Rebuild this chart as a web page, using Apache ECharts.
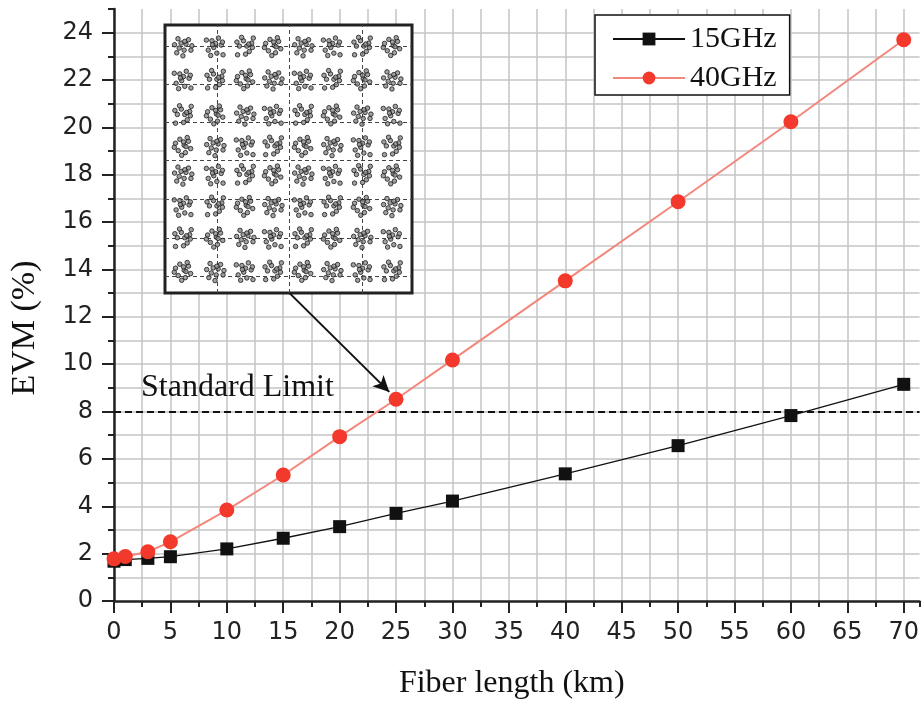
<!DOCTYPE html>
<html>
<head>
<meta charset="utf-8">
<script src="https://cdn.jsdelivr.net/npm/echarts@6.0.0/dist/echarts.min.js"></script>
<style>html,body{margin:0;padding:0;background:#fff}#c{width:922px;height:708px}</style>
</head>
<body>
<div id="c"></div>
<script>
// ---- data ----
var fiberLength = [0, 1, 3, 5, 10, 15, 20, 25, 30, 40, 50, 60, 70];
var evm15GHz = [1.68, 1.75, 1.8, 1.87, 2.2, 2.65, 3.14, 3.7, 4.22, 5.37, 6.56, 7.83, 9.15];
var evm40GHz = [1.78, 1.88, 2.08, 2.5, 3.84, 5.32, 6.94, 8.52, 10.18, 13.52, 16.86, 20.24, 23.7];
var standardLimit = 8;
var xTickLabels = [0, 5, 10, 15, 20, 25, 30, 35, 40, 45, 50, 55, 60, 65, 70];
var yTickLabels = [0, 2, 4, 6, 8, 10, 12, 14, 16, 18, 20, 22, 24];
var seriesNames = ['15GHz', '40GHz'];
// inset constellation (64 clusters)
var constColX = [0.58, 1.62, 2.59, 3.5, 4.47, 5.41, 6.38, 7.35];
var constRowY = [0.64, 1.63, 2.58, 3.52, 4.37, 5.31, 6.36, 7.35];
var jitterA = [[-0.24,0.10],[-0.10,0.22],[0.04,0.04],[0.18,0.16],[0.25,-0.06],[0.08,-0.18],[-0.15,-0.12],[-0.04,-0.26],[0.14,0.27],[-0.28,-0.02],[0.02,0.14],[0.10,0.0]];
var jitterB = [[0.10,0.08],[-0.16,0.24],[0.26,-0.10],[-0.20,-0.18],[0.04,-0.10],[-0.27,0.06],[0.18,0.21],[0.00,-0.27],[-0.06,0.11],[0.29,0.03],[-0.12,-0.04],[0.06,0.16]];
var jitterC = [[-0.10,0.18],[0.20,0.05],[-0.22,-0.10],[0.06,-0.19],[0.26,-0.24],[-0.04,-0.02],[0.11,0.26],[-0.28,0.20],[0.02,0.10],[-0.14,-0.26],[0.24,0.14],[-0.08,0.06]];
var jitterD = [[0.14,-0.14],[-0.05,0.18],[0.22,0.11],[-0.18,0.02],[0.02,-0.22],[-0.24,-0.24],[0.27,0.26],[0.06,0.02],[-0.11,0.28],[0.24,-0.02],[-0.26,0.14],[0.12,0.08]];
var insetDashX = [1.68, 4.02, 6.38];
var insetDashY = [0.51, 1.64, 2.80, 3.95, 5.10, 6.24, 7.38];

// ---- build ----
var jitters = [jitterA, jitterB, jitterC, jitterD];
var constellation = [];
constRowY.forEach(function (ry, r) {
  constColX.forEach(function (cx, c) {
    jitters[(r * 3 + c) % 4].forEach(function (d) {
      constellation.push([cx + d[0], ry + d[1]]);
    });
  });
});
function pairs(xs, ys) { return xs.map(function (x, i) { return [x, ys[i]]; }); }

var sans = 'DejaVu Sans';
var serif = 'Liberation Serif';
var xMax = 71.4, yMax = 25;

var chart = echarts.init(document.getElementById('c'), null, {renderer: 'canvas'});
chart.setOption({
  animation: false,
  backgroundColor: '#fff',
  grid: [
    {left: 114, right: 0, top: 9, bottom: 107, containLabel: false},
    {left: 165, top: 25, width: 247, height: 268, show: true, backgroundColor: '#fff',
     borderColor: '#222', borderWidth: 3, z: 3}
  ],
  xAxis: [
    {type: 'value', gridIndex: 0, min: 0, max: xMax, interval: 2.5,
     axisLine: {show: true, lineStyle: {color: '#222', width: 2.5}},
     axisTick: {show: true, length: 6, lineStyle: {color: '#222', width: 2}},
     axisLabel: {show: false},
     splitLine: {show: true, showMaxLine: false, lineStyle: {color: '#c4c4c4', width: 1.5}},
     name: 'Fiber length (km)', nameLocation: 'middle', nameGap: 67,
     nameTextStyle: {fontFamily: serif, fontSize: 32, color: '#111', padding: [0, 10, 0, 0]}},
    {type: 'value', gridIndex: 0, min: 0, max: xMax, interval: 5, position: 'bottom',
     axisLine: {show: false},
     axisTick: {show: true, length: 12, customValues: xTickLabels, lineStyle: {color: '#222', width: 2}},
     axisLabel: {show: true, customValues: xTickLabels, margin: 20, fontFamily: sans, fontSize: 24, color: '#222',
       formatter: function (v) { return v % 5 === 0 ? String(v) : ''; }},
     splitLine: {show: false}},
    {type: 'value', gridIndex: 1, min: 0, max: 8, show: false}
  ],
  yAxis: [
    {type: 'value', gridIndex: 0, min: 0, max: yMax, interval: 1,
     axisLine: {show: true, lineStyle: {color: '#222', width: 2.5}},
     axisTick: {show: true, length: 6, lineStyle: {color: '#222', width: 2}},
     axisLabel: {show: false},
     splitLine: {show: true, showMaxLine: false, showMinLine: false, lineStyle: {color: '#c4c4c4', width: 1.5}}},
    {type: 'value', gridIndex: 0, min: 0, max: yMax, interval: 2, position: 'left',
     axisLine: {show: false},
     axisTick: {show: true, length: 12, customValues: yTickLabels, lineStyle: {color: '#222', width: 2}},
     axisLabel: {show: true, customValues: yTickLabels, margin: 21, fontFamily: sans, fontSize: 24, color: '#222',
       formatter: function (v) { return v % 2 === 0 && v <= 24 ? String(v) : ''; }},
     splitLine: {show: false}},
    {type: 'value', gridIndex: 1, min: 0, max: 8, show: false}
  ],
  legend: {
    left: 595, top: 15, orient: 'vertical',
    backgroundColor: '#fff', borderColor: '#111', borderWidth: 1.5, borderRadius: 0,
    padding: [9, 13, 2, 17], itemWidth: 72, itemHeight: 16, itemGap: 9,
    textStyle: {fontFamily: serif, fontSize: 30, color: '#111'},
    data: seriesNames, z: 10
  },
  series: [
    {name: seriesNames[0], type: 'line', xAxisIndex: 0, yAxisIndex: 0,
     data: pairs(fiberLength, evm15GHz), symbol: 'rect', symbolSize: 13,
     lineStyle: {color: '#111', width: 1.3}, itemStyle: {color: '#111'}, z: 4,
     markLine: {silent: true, symbol: ['none', 'none'], label: {show: false},
       lineStyle: {color: '#111', width: 2, type: [7, 4]},
       data: [{yAxis: standardLimit}]}},
    {name: seriesNames[1], type: 'line', xAxisIndex: 0, yAxisIndex: 0,
     data: pairs(fiberLength, evm40GHz), symbol: 'circle', symbolSize: 15,
     lineStyle: {color: '#f4877c', width: 2}, itemStyle: {color: '#f2392c'}, z: 5,
     markLine: {silent: true, symbol: ['none', 'arrow'], symbolSize: [12, 16], label: {show: false},
       lineStyle: {color: '#111', width: 2, type: 'solid'},
       data: [[{coord: [15.56, 13.0]}, {coord: [24.4, 8.83]}]]}},
    {name: 'constellation', type: 'scatter', xAxisIndex: 2, yAxisIndex: 2,
     data: constellation, symbol: 'circle', symbolSize: 4.5, z: 6,
     itemStyle: {color: '#8a8a8a', borderColor: '#1a1a1a', borderWidth: 1},
     markLine: {silent: true, symbol: ['none', 'none'], label: {show: false},
       lineStyle: {color: '#444', width: 1, type: [4, 3]},
       data: insetDashX.map(function (v) { return {xAxis: v}; })
         .concat(insetDashY.map(function (v) { return {yAxis: v}; }))}}
  ],
  graphic: [
    {type: 'text', x: 25, y: 328, rotation: Math.PI / 2, z: 20,
     style: {text: 'EVM (%)', fontFamily: serif, fontSize: 34, fill: '#111', align: 'center', verticalAlign: 'middle'}},
    {type: 'text', x: 141, y: 388, z: 20,
     style: {text: 'Standard Limit', fontFamily: serif, fontSize: 32, fill: '#111', align: 'left', verticalAlign: 'middle'}}
  ]
});
</script>
</body>
</html>
